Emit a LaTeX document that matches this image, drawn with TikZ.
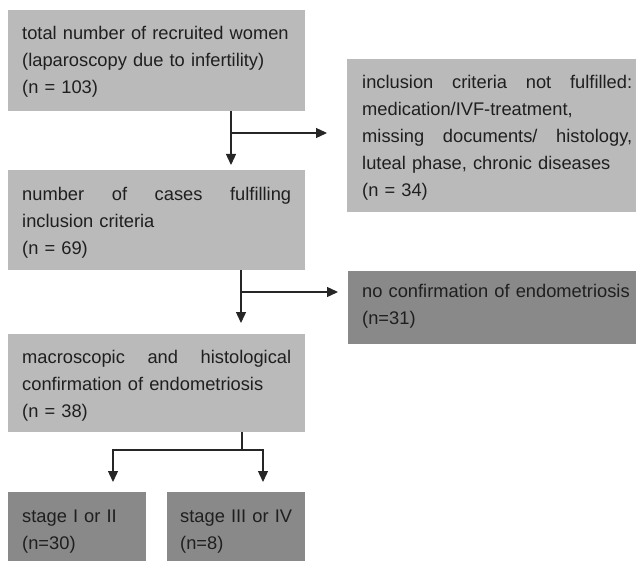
\documentclass[tikz,border=0pt]{standalone}
\usepackage{fontspec}
\setmainfont{Liberation Sans}
\usetikzlibrary{arrows.meta}
\setlength{\parindent}{0pt}
\hyphenpenalty=10000
\definecolor{boxlight}{RGB}{186,186,186}
\definecolor{boxdark}{RGB}{137,137,137}
% justified line (words split by \hfill) and fixed top/bottom padding
\newcommand{\spread}[1]{\makebox[\hsize][l]{#1}}
\newcommand{\boxtext}[3]{\rule{0pt}{#1pt}#3\rule[-#2pt]{0pt}{0pt}}
\tikzset{
  flowbox/.style={anchor=north west, inner xsep=14pt, inner ysep=0pt, align=left,
    text=black!88, font=\fontsize{18.3}{27}\selectfont},
  lightbox/.style={flowbox, fill=boxlight},
  darkbox/.style={flowbox, fill=boxdark},
  line/.style={line width=1.3pt, draw=black!85},
  arr/.style={line, -{Triangle[width=10pt,length=11pt]}},
}
\begin{document}
\begin{tikzpicture}[x=1pt, y=1pt]
  \useasboundingbox (0, 0) rectangle (636, -561);

  \node[lightbox, text width=269pt] (total) at (8, -10)
    {\boxtext{29}{18}{total number of recruited women\\(laparoscopy due to infertility)\\(n = 103)}};
  \node[lightbox, text width=270pt, inner xsep=15pt] (excl) at (347, -59)
    {\boxtext{29}{16}{\spread{inclusion\hfill criteria\hfill not\hfill fulfilled:}\\medication/IVF-treatment,\\\spread{missing\hfill documents/\hfill histology,}\\luteal phase, chronic diseases\\(n = 34)}};
  \node[lightbox, text width=269pt] (fulfil) at (8, -170)
    {\boxtext{30}{16}{\spread{number\hfill of\hfill cases\hfill fulfilling}\\inclusion criteria\\(n = 69)}};
  \node[darkbox, text width=270pt] (noconf) at (348, -271)
    {\boxtext{26}{20}{no confirmation of endometriosis\\(n=31)}};
  \node[lightbox, text width=269pt] (confirm) at (8, -334)
    {\boxtext{29}{15}{\spread{macroscopic\hfill and\hfill histological}\\confirmation of endometriosis\\(n = 38)}};
  \node[darkbox, text width=110pt] (stage12) at (8, -492)
    {\boxtext{30}{20}{stage I or II\\(n=30)}};
  \node[darkbox, text width=112pt, inner xsep=13pt] (stage34) at (167, -492)
    {\boxtext{30}{20}{stage III or IV\\(n=8)}};

  \coordinate (j1) at (231, -133);
  \coordinate (j2) at (241, -292);
  \coordinate (j3) at (242, -450);
  \coordinate (l3) at (113, -450);
  \coordinate (r3) at (263, -450);

  \draw[arr, shorten >=5pt] (j1 |- total.south) -- (j1 |- fulfil.north);
  \draw[arr, shorten >=20pt] (j1) -- (j1 -| excl.west);

  \draw[arr, shorten >=11pt] (j2 |- fulfil.south) -- (j2 |- confirm.north);
  \draw[arr, shorten >=10pt] (j2) -- (j2 -| noconf.west);

  \draw[line] (j3 |- confirm.south) -- (j3);
  \draw[arr, shorten >=10pt] (j3) -- (l3) -- (l3 |- stage12.north);
  \draw[arr, shorten >=10pt] (j3) -- (r3) -- (r3 |- stage34.north);
\end{tikzpicture}
\end{document}
